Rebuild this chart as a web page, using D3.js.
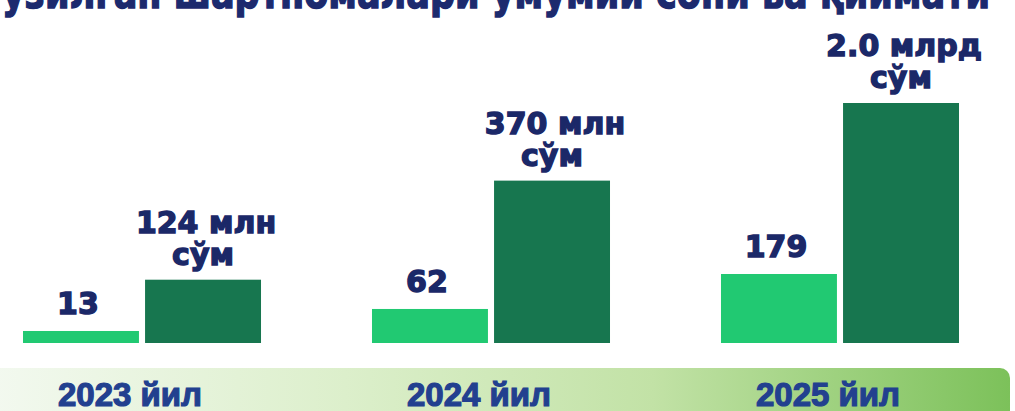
<!DOCTYPE html>
<html><head><meta charset="utf-8">
<script src="https://cdn.jsdelivr.net/npm/d3@7"></script>
<style>html,body{margin:0;padding:0;background:#fff;overflow:hidden}</style>
</head><body>
<svg id="chart" width="1015" height="411"></svg>
<script>
const title = "Тузилган шартномалари умумий сони ва қиймати";
const years = ["2023 йил", "2024 йил", "2025 йил"];
const counts = [13, 62, 179];
const amounts = [124, 370, 2000];
const amountLabels = ["124 млн", "370 млн", "2.0 млрд"];
const currency = "сўм";

const svg = d3.select("#chart");
const base = 343;

const defs = svg.append("defs");
const g = defs.append("linearGradient").attr("id","band").attr("x1","0").attr("x2","1");
[["0%","#f3f9f0"],["35%","#dcefcb"],["65%","#c2e2a6"],["100%","#7cc15a"]].forEach(s=>g.append("stop").attr("offset",s[0]).attr("stop-color",s[1]));

// bottom band
svg.append("rect").attr("x",-12).attr("y",368).attr("width",1022).attr("height",60).attr("rx",10).attr("fill","url(#band)");

// title (cut off at top in the reference)
svg.append("text").attr("x",-22).attr("y",8).attr("textLength",1012).attr("lengthAdjust","spacingAndGlyphs")
  .attr("font-family","DejaVu Sans").attr("font-weight","bold").attr("font-size",44)
  .attr("fill","#1c2a6e").attr("stroke","#1c2a6e").attr("stroke-width",1.5)
  .text(title);

const x0 = d3.scaleBand().domain(years).range([23, 959]).paddingInner(0.318).paddingOuter(0);
const x1 = d3.scaleBand().domain(["count","amount"]).range([0, x0.bandwidth()]).paddingInner(0.05);
const yCount = d3.scalePow().exponent(2/3).domain([0, 179]).range([base, 274]);
const yAmount = d3.scalePow().exponent(-0.5).domain([77, 2000]).range([base, 103]);

const data = years.map((y,i)=>({year:y, count:counts[i], amount:amounts[i], label:amountLabels[i]}));
const grp = svg.selectAll("g.grp").data(data).join("g").attr("class","grp")
  .attr("transform", d=>`translate(${x0(d.year)},0)`);

grp.append("rect").attr("x",x1("count")).attr("width",x1.bandwidth())
  .attr("y",d=>yCount(d.count)).attr("height",d=>base-yCount(d.count)).attr("fill","#21c972");
grp.append("rect").attr("x",x1("amount")).attr("width",x1.bandwidth())
  .attr("y",d=>yAmount(d.amount)).attr("height",d=>base-yAmount(d.amount)).attr("fill","#17764f");

const lab = sel => sel.attr("font-family","DejaVu Sans").attr("font-weight","bold").attr("font-size",30)
  .attr("fill","#1b2868").attr("text-anchor","middle")
  .attr("stroke","#1b2868").attr("stroke-width",1.4);

grp.append("text").call(lab).attr("x",x1("count")+x1.bandwidth()/2-3)
  .attr("y",d=>yCount(d.count)-17).text(d=>d.count);
grp.append("text").call(lab).attr("x",x1("amount")+x1.bandwidth()/2+3)
  .attr("y",d=>yAmount(d.amount)-47).text(d=>d.label);
grp.append("text").call(lab).attr("x",x1("amount")+x1.bandwidth()/2)
  .attr("y",d=>yAmount(d.amount)-15).text(currency);

grp.append("text").attr("x",107).attr("y",406).attr("text-anchor","middle")
  .attr("font-family","Liberation Sans").attr("font-weight","bold").attr("font-size",33)
  .attr("fill","#22408f").attr("stroke","#22408f").attr("stroke-width",1.2)
  .text(d=>d.year);
</script>
</body></html>
